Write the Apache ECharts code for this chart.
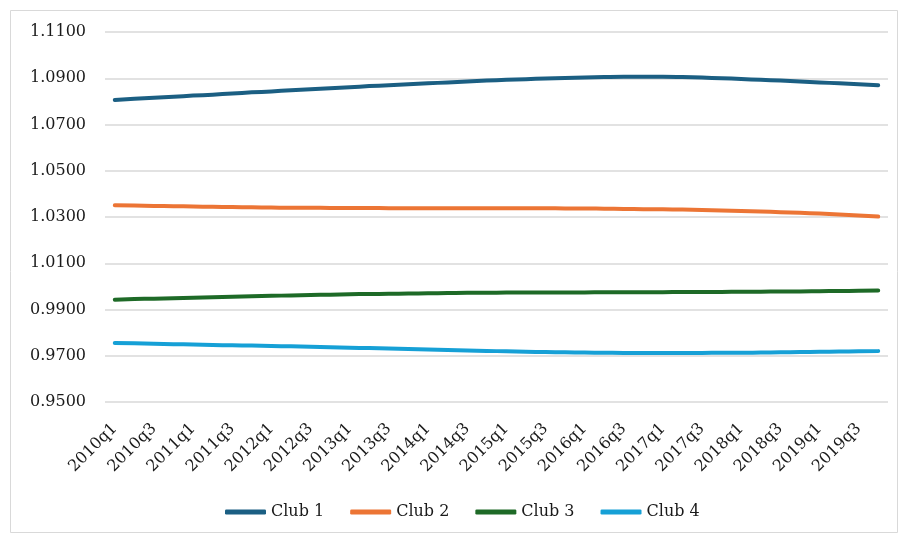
<!DOCTYPE html>
<html>
<head>
<meta charset="utf-8">
<script src="https://cdn.jsdelivr.net/npm/echarts@6/dist/echarts.min.js"></script>
<style>
  html, body { margin: 0; padding: 0; background: #fff; }
  #chart { width: 901px; height: 535px; }
</style>
</head>
<body>
<div id="chart"></div>
<script>
// Quarterly categories 2010q1 .. 2019q4
const quarters = [
  '2010q1','2010q2','2010q3','2010q4','2011q1','2011q2','2011q3','2011q4',
  '2012q1','2012q2','2012q3','2012q4','2013q1','2013q2','2013q3','2013q4',
  '2014q1','2014q2','2014q3','2014q4','2015q1','2015q2','2015q3','2015q4',
  '2016q1','2016q2','2016q3','2016q4','2017q1','2017q2','2017q3','2017q4',
  '2018q1','2018q2','2018q3','2018q4','2019q1','2019q2','2019q3','2019q4'
];

const seriesNames = ['Club 1', 'Club 2', 'Club 3', 'Club 4'];

const club1 = [
  1.0806, 1.0811, 1.0816, 1.0820, 1.0825, 1.0829, 1.0834, 1.0839, 1.0843, 1.0848,
  1.0852, 1.0857, 1.0861, 1.0866, 1.0870, 1.0874, 1.0878, 1.0882, 1.0886, 1.0890,
  1.0893, 1.0896, 1.0899, 1.0901, 1.0903, 1.0905, 1.0906, 1.0906, 1.0906, 1.0905,
  1.0903, 1.0900, 1.0897, 1.0893, 1.0890, 1.0886, 1.0882, 1.0878, 1.0874, 1.0870
];
const club2 = [
  1.0351, 1.0350, 1.0348, 1.0347, 1.0345, 1.0344, 1.0343, 1.0342, 1.0341, 1.0340,
  1.0340, 1.0339, 1.0339, 1.0339, 1.0338, 1.0338, 1.0338, 1.0338, 1.0338, 1.0338,
  1.0338, 1.0338, 1.0338, 1.0337, 1.0337, 1.0336, 1.0335, 1.0334, 1.0333, 1.0332,
  1.0330, 1.0328, 1.0326, 1.0324, 1.0321, 1.0318, 1.0315, 1.0311, 1.0307, 1.0302
];
const club3 = [
  0.9942, 0.9945, 0.9947, 0.9949, 0.9951, 0.9953, 0.9955, 0.9957, 0.9959, 0.9961,
  0.9963, 0.9964, 0.9966, 0.9967, 0.9968, 0.9969, 0.9970, 0.9971, 0.9972, 0.9972,
  0.9973, 0.9973, 0.9974, 0.9974, 0.9974, 0.9975, 0.9975, 0.9975, 0.9975, 0.9976,
  0.9976, 0.9976, 0.9977, 0.9977, 0.9978, 0.9978, 0.9979, 0.9980, 0.9981, 0.9982
];
const club4 = [
  0.9755, 0.9754, 0.9752, 0.9750, 0.9749, 0.9747, 0.9745, 0.9744, 0.9742, 0.9741,
  0.9739, 0.9737, 0.9735, 0.9733, 0.9731, 0.9729, 0.9727, 0.9725, 0.9723, 0.9721,
  0.9719, 0.9717, 0.9716, 0.9715, 0.9714, 0.9713, 0.9712, 0.9712, 0.9712, 0.9712,
  0.9712, 0.9713, 0.9713, 0.9714, 0.9715, 0.9716, 0.9717, 0.9718, 0.9719, 0.9720
];

// Value axis range and step
const yMin = 0.95;
const yMax = 1.11;
const yStep = 0.02;

const colors = ['#1b5f83', '#ec7535', '#1e6a27', '#16a0d6'];
const font = '"DejaVu Serif", "Liberation Serif", serif';

const chart = echarts.init(document.getElementById('chart'), null, { renderer: 'canvas' });

const makeSeries = (name, data, color) => ({
  name: name,
  type: 'line',
  data: data,
  smooth: true,
  showSymbol: false,
  symbol: 'none',
  lineStyle: { color: color, width: 4, cap: 'round', join: 'round' },
  itemStyle: { color: color },
  emphasis: { disabled: true }
});

chart.setOption({
  animation: false,
  backgroundColor: '#ffffff',
  color: colors,
  graphic: [{
    type: 'rect',
    shape: { x: 10.5, y: 10.5, width: 887, height: 522 },
    style: { fill: 'none', stroke: '#d9d9d9', lineWidth: 1 },
    silent: true
  }],
  grid: { left: 105, right: 13, top: 32, bottom: 133, containLabel: false },
  legend: {
    data: seriesNames,
    left: 220,
    top: 499,
    icon: 'roundRect',
    itemWidth: 41,
    itemHeight: 5,
    itemGap: 26,
    textStyle: { fontFamily: font, fontSize: 16, color: '#1a1a1a' }
  },
  xAxis: {
    type: 'category',
    data: quarters,
    boundaryGap: true,
    axisLine: { show: false },
    axisTick: { show: false },
    axisLabel: {
      interval: 1,
      rotate: 45,
      margin: 24,
      fontFamily: font,
      fontSize: 16,
      color: '#1a1a1a'
    }
  },
  yAxis: {
    type: 'value',
    min: yMin,
    max: yMax,
    interval: yStep,
    axisLine: { show: false },
    axisTick: { show: false },
    splitLine: { lineStyle: { color: '#d9d9d9', width: 1.5 } },
    axisLabel: {
      margin: 19,
      fontFamily: font,
      fontSize: 16,
      color: '#1a1a1a',
      formatter: v => v.toFixed(4)
    }
  },
  series: [
    makeSeries(seriesNames[0], club1, colors[0]),
    makeSeries(seriesNames[1], club2, colors[1]),
    makeSeries(seriesNames[2], club3, colors[2]),
    makeSeries(seriesNames[3], club4, colors[3])
  ]
});
</script>
</body>
</html>
